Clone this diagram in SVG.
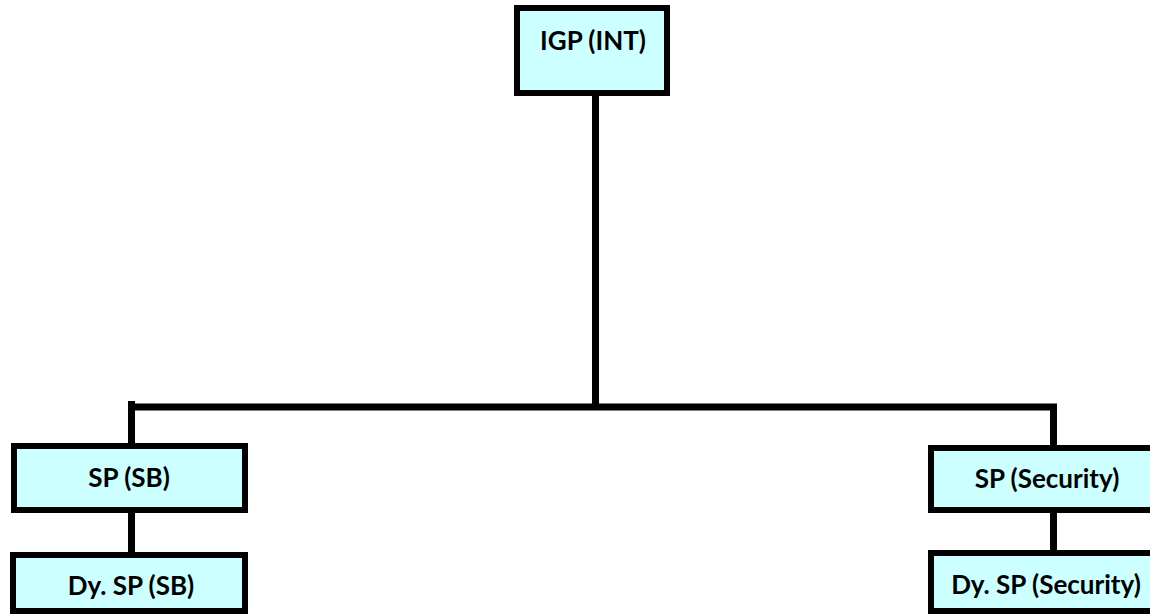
<svg xmlns="http://www.w3.org/2000/svg" width="1150" height="615" viewBox="0 0 1150 615">
<style>
.box{fill:#CCFFFF;stroke:#000;stroke-width:6}
.lbl{font-family:Lato,"Open Sans","Liberation Sans",sans-serif;font-weight:bold;font-size:26px;fill:#000;text-anchor:middle}
.conn{stroke:#000;stroke-width:7;fill:none}
</style>
<rect width="1150" height="615" fill="#fff"/>
<g id="connectors">
<path class="conn" d="M595.5 96 V407"/>
<path class="conn" d="M128 407 H1057"/>
<path class="conn" d="M131.5 401 V446"/>
<path class="conn" d="M1053.5 407 V448"/>
<path class="conn" d="M131.5 513 V555"/>
<path class="conn" d="M1053.5 513 V553"/>
</g>
<g id="igp">
<rect class="box" x="517" y="8" width="150" height="85"/>
<text class="lbl" x="593" y="50">IGP (INT)</text>
</g>
<g id="sp-sb">
<rect class="box" x="14" y="446" width="231" height="64"/>
<text class="lbl" x="129" y="487">SP (SB)</text>
</g>
<g id="dysp-sb">
<rect class="box" x="13" y="555" width="232" height="56"/>
<text class="lbl" x="131" y="595">Dy. SP (SB)</text>
</g>
<g id="sp-security">
<rect class="box" x="931" y="448" width="230" height="62"/>
<text class="lbl" x="1047" y="488">SP (Security)</text>
</g>
<g id="dysp-security">
<rect class="box" x="931" y="553" width="230" height="58"/>
<text class="lbl" x="1046" y="594">Dy. SP (Security)</text>
</g>
</svg>
